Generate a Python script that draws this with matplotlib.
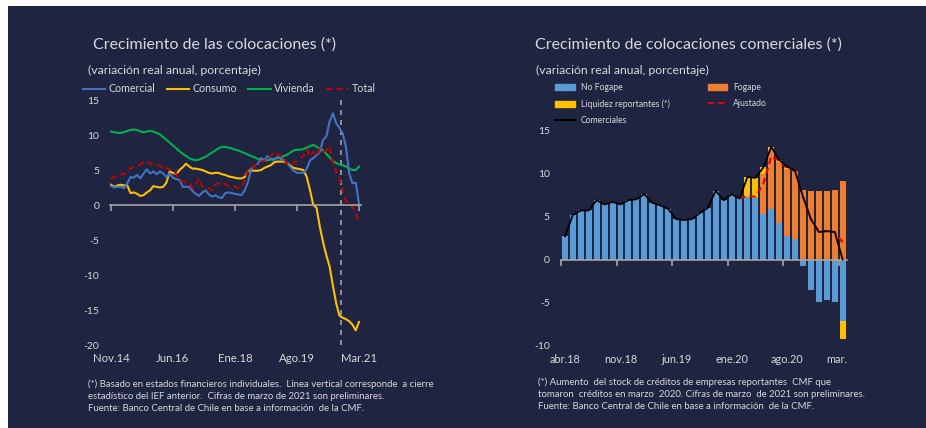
import matplotlib
matplotlib.use("Agg")
import matplotlib.pyplot as plt
from matplotlib.patches import Rectangle, Patch
from matplotlib.lines import Line2D
import numpy as np

plt.rcParams['font.family'] = ['Lato', 'DejaVu Sans']
plt.rcParams['axes.unicode_minus'] = False

bg = '#1f2440'
txt = '#d9d9d9'
axis_grey = '#a6a6a6'

# ---- left chart: monthly, Nov.14 .. Mar.21 (77 months)
left_ticklabels = ['Nov.14', 'Jun.16', 'Ene.18', 'Ago.19', 'Mar.21']
left_tickpos = [0, 19, 38, 57, 76]
ief_cut = 70.6

comercial = [2.7, 2.5, 2.6, 2.6, 2.4, 3.1, 4.0, 3.9, 4.3, 3.8,
             4.5, 5.1, 4.5, 4.8, 4.4, 4.8, 4.5, 4.0, 4.5, 3.9,
             3.7, 3.6, 2.6, 2.6, 2.6, 2.0, 1.6, 1.3, 1.8, 2.1,
             1.5, 1.2, 1.4, 1.1, 1.0, 1.7, 1.8, 1.7, 1.6, 1.5,
             1.4, 2.1, 3.3, 5.2, 5.6, 5.9, 6.7, 6.4, 7.0, 6.6,
             6.4, 6.9, 6.6, 6.4, 6.0, 5.4, 4.9, 4.6, 4.6, 4.6,
             5.2, 6.4, 6.7, 7.1, 7.6, 9.3, 9.8, 11.9, 13.1, 11.7,
             11.0, 10.2, 8.3, 4.5, 3.1, 3.2, 0.2]
consumo = [2.9, 2.6, 2.8, 2.9, 2.8, 2.8, 1.7, 1.8, 1.6, 1.3,
           1.4, 1.8, 2.1, 2.7, 2.6, 2.5, 2.6, 3.2, 4.8, 4.6,
           4.4, 5.0, 5.4, 5.9, 5.5, 5.2, 5.2, 5.1, 5.0, 4.8,
           4.6, 4.5, 4.6, 4.6, 4.4, 4.3, 4.1, 4.0, 3.9, 3.8,
           3.8, 4.0, 4.9, 4.9, 4.9, 4.9, 5.0, 5.3, 5.5, 5.7,
           6.1, 6.2, 6.2, 6.2, 6.0, 5.6, 5.3, 5.2, 5.1, 5.0,
           4.0, 2.1, 0.0, -0.4, -3.1, -5.3, -7.2, -8.8, -11.5, -14.0,
           -15.8, -16.1, -16.3, -16.6, -17.1, -17.9, -16.7]
vivienda = [10.5, 10.4, 10.3, 10.3, 10.4, 10.6, 10.7, 10.8, 10.7, 10.5,
            10.4, 10.5, 10.6, 10.5, 10.3, 10.1, 9.7, 9.3, 8.9, 8.5,
            8.1, 7.7, 7.3, 7.0, 6.7, 6.5, 6.4, 6.5, 6.7, 6.9,
            7.2, 7.5, 7.8, 8.1, 8.3, 8.3, 8.2, 8.1, 7.9, 7.8,
            7.6, 7.4, 7.2, 7.0, 6.8, 6.6, 6.4, 6.3, 6.4, 6.5,
            6.6, 6.7, 6.8, 7.0, 7.2, 7.5, 7.8, 7.9, 7.9, 8.0,
            8.2, 8.4, 8.6, 8.3, 8.1, 7.8, 7.3, 6.8, 6.3, 6.0,
            5.8, 5.7, 5.5, 5.2, 5.0, 5.0, 5.5]
total = [3.7, 4.0, 4.2, 4.4, 4.4, 4.9, 5.2, 5.4, 5.6, 5.8,
         6.2, 6.1, 6.0, 5.6, 5.7, 5.6, 5.1, 5.3, 5.1, 4.8,
         4.5, 3.6, 3.3, 3.3, 3.1, 2.4, 3.0, 3.8, 2.6, 2.6,
         2.4, 2.1, 2.9, 3.1, 3.2, 3.0, 2.7, 2.6, 2.6, 2.4,
         2.5, 3.5, 5.0, 5.4, 5.6, 6.0, 6.2, 6.3, 6.6, 7.0,
         7.6, 7.3, 7.0, 6.8, 5.8, 5.8, 6.0, 6.3, 6.7, 7.0,
         7.9, 6.9, 7.6, 7.1, 8.1, 7.6, 7.8, 8.4, 6.0, 4.8,
         3.9, 2.0, 0.6, 0.0, -0.2, -1.0, -2.6]

# ---- right chart: monthly, abr.18 .. mar.21 (36 months)
right_ticklabels = ['abr.18', 'nov.18', 'jun.19', 'ene.20', 'ago.20', 'mar.']
right_labelpos = [0, 7, 14, 21, 28, 34.2]
right_tickpos = [-0.5, 6.5, 13.5, 20.5, 27.5, 34.5]
no_fogape = [2.7, 5.2, 5.7, 5.7, 6.9, 6.4, 6.7, 6.4, 6.9, 7.0,
             7.6, 6.6, 6.3, 5.9, 4.7, 4.6, 4.7, 5.4, 6.0, 8.0,
             6.9, 7.6, 7.1, 7.3, 7.2, 5.3, 5.9, 4.2, 2.7, 2.4,
             -0.8, -3.5, -4.9, -4.7, -4.9, -7.2]
fogape = [0] * 25 + [4.7, 6.8, 7.1, 7.8, 7.9, 8.1, 8.0, 8.0, 8.0, 8.1, 9.1]
liquidez = [0] * 23 + [2.3, 2.3, 0.7, 0.4, 0.3, 0.3, 0, 0, 0, 0, 0, 0, -2.1]
comerciales = [2.7, 5.2, 5.7, 5.7, 6.9, 6.4, 6.7, 6.4, 6.9, 7.0,
               7.6, 6.6, 6.3, 5.9, 4.7, 4.6, 4.7, 5.4, 6.0, 8.0,
               6.9, 7.6, 7.1, 9.6, 9.5, 10.7, 13.1, 11.6, 10.8, 10.3,
               7.3, 4.7, 3.2, 3.3, 3.2, 0.0]
ajustado = [np.nan] * 22 + [7.1, 7.4, 7.3, 8.8, 12.0, 11.5, 10.6, 10.3,
                            7.3, 4.7, 3.2, 3.3, 3.2, 2.0]

fig = plt.figure(figsize=(9.26, 4.28), dpi=100)
fig.patch.set_facecolor('white')
fig.patches.append(Rectangle((8 / 926, 0), 1, 1 - 6 / 428, transform=fig.transFigure,
                             facecolor=bg, edgecolor='none', zorder=-10))


def style_axes(ax):
    ax.set_facecolor('none')
    for s in ['top', 'right', 'left']:
        ax.spines[s].set_visible(False)
    ax.spines['bottom'].set_position(('data', 0))
    ax.spines['bottom'].set_color(axis_grey)
    ax.spines['bottom'].set_linewidth(1.2)
    ax.tick_params(axis='x', colors=axis_grey, length=4, width=1.2, labelbottom=False)
    ax.tick_params(axis='y', length=0, labelcolor=txt, labelsize=7.5, pad=8)


# ---- left
ax1 = fig.add_axes([0.1191, 0.1857, 0.2707, 0.5888])
style_axes(ax1)
x1 = np.arange(len(comercial))
ax1.axvline(ief_cut, color=axis_grey, ls=(0, (3, 3)), lw=1.2, ymin=0.015, ymax=0.985)
ax1.plot(x1, vivienda, color='#00b050', lw=1.5)
ax1.plot(x1, consumo, color='#ffc000', lw=1.5)
ax1.plot(x1, comercial, color='#4472c4', lw=1.5)
ax1.plot(x1, total, color='#c00000', lw=1.5, ls=(0, (3, 2)))
ax1.set_xlim(-0.2, 76.6)
ax1.set_ylim(-20.5, 15.5)
ax1.set_yticks(np.arange(-20, 16, 5))
ax1.set_xticks(left_tickpos)
sec1 = ax1.secondary_xaxis('bottom')
sec1.set_xticks(left_tickpos, left_ticklabels)
sec1.tick_params(length=0, labelcolor=txt, labelsize=8.2, pad=3)
sec1.spines['bottom'].set_visible(False)

h1 = [Line2D([], [], color='#4472c4', lw=1.5), Line2D([], [], color='#ffc000', lw=1.5),
      Line2D([], [], color='#00b050', lw=1.5), Line2D([], [], color='#c00000', lw=1.5, ls=(0, (3, 2)))]
fig.legend(h1, ['Comercial', 'Consumo', 'Vivienda', 'Total'], loc='center left',
           bbox_to_anchor=(83 / 926, 1 - 89 / 428), ncol=4, frameon=False, fontsize=7.7,
           labelcolor=txt, handlelength=2.1, handletextpad=0.3, columnspacing=1.05,
           borderaxespad=0, borderpad=0)

fig.text(93 / 926, 1 - 45 / 428, 'Crecimiento de las colocaciones (*)', color=txt,
         fontsize=11.5, va='center')
fig.text(88 / 926, 1 - 70 / 428, '(variación real anual, porcentaje)', color=txt,
         fontsize=8.8, va='center')
fig.text(88 / 926, 1 - 396 / 428,
         '(*) Basado en estados financieros individuales.  Línea vertical corresponde  a cierre\n'
         'estadístico del IEF anterior.  Cifras de marzo de 2021 son preliminares.\n'
         'Fuente: Banco Central de Chile en base a información  de la CMF.',
         color=txt, fontsize=6.9, va='center', linespacing=1.45)

# ---- right
ax2 = fig.add_axes([0.6058, 0.1827, 0.3085, 0.5224])
style_axes(ax2)
x2 = np.arange(len(no_fogape))
nf = np.array(no_fogape)
fg = np.array(fogape)
lq = np.array(liquidez)
ax2.bar(x2, nf, width=0.75, color='#5b9bd5', zorder=2)
fog_base = np.where(nf > 0, nf, 0)
ax2.bar(x2, fg, bottom=fog_base, width=0.75, color='#ed7d31', zorder=2)
liq_base = np.where(lq > 0, fog_base + fg, np.minimum(nf, 0))
ax2.bar(x2, lq, bottom=liq_base, width=0.75, color='#ffc000', zorder=2)
ax2.plot(x2, ajustado, color='#e00000', lw=1.5, ls=(0, (3, 2)), zorder=3)
ax2.plot(x2, comerciales, color='black', lw=1.3, zorder=4)
ax2.set_xlim(-0.5, 35.5)
ax2.set_ylim(-10.5, 15.5)
ax2.set_yticks([-10, -5, 0, 5, 10, 15])
ax2.set_xticks(right_tickpos)
sec2 = ax2.secondary_xaxis('bottom')
sec2.set_xticks(right_labelpos, right_ticklabels)
sec2.tick_params(length=0, labelcolor=txt, labelsize=7.8, pad=3)
sec2.spines['bottom'].set_visible(False)

h2 = [Patch(color='#5b9bd5'), Patch(color='#ffc000'), Line2D([], [], color='black', lw=1.5),
      Patch(color='#ed7d31'), Line2D([], [], color='#e00000', lw=1.5, ls=(0, (3, 2)))]
l2 = ['No Fogape', 'Liquidez reportantes (*)', 'Comerciales', 'Fogape', 'Ajustado']
fig.legend(h2, l2, loc='upper left', bbox_to_anchor=(555 / 926, 1 - 83 / 428), ncol=2,
           frameon=False, fontsize=6.2, labelcolor=txt, handlelength=2.3, handleheight=0.7,
           handletextpad=0.7, columnspacing=4.4, labelspacing=0.85,
           borderaxespad=0, borderpad=0)

fig.text(535 / 926, 1 - 45 / 428, 'Crecimiento de colocaciones comerciales (*)', color=txt,
         fontsize=11.5, va='center')
fig.text(536 / 926, 1 - 70 / 428, '(variación real anual, porcentaje)', color=txt,
         fontsize=8.8, va='center')
fig.text(538 / 926, 1 - 394 / 428,
         '(*) Aumento  del stock de créditos de empresas reportantes  CMF que\n'
         'tomaron  créditos en marzo  2020. Cifras de marzo  de 2021 son preliminares.\n'
         'Fuente: Banco Central de Chile en base a información  de la CMF.',
         color=txt, fontsize=6.9, va='center', linespacing=1.45)

fig.savefig('out.png', dpi=100, facecolor=fig.get_facecolor())
